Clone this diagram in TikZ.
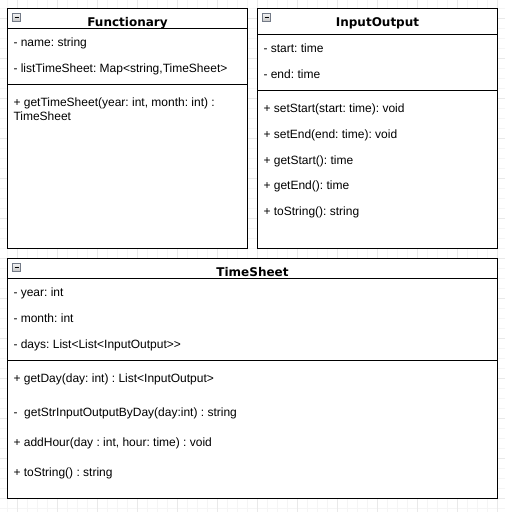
\documentclass[tikz,border=0pt]{standalone}
\usepackage{fontspec}
\setmainfont{Liberation Sans}
\newfontfamily\titlefont{DejaVu Sans}
\frenchspacing
\definecolor{gridminor}{rgb}{0.96,0.96,0.96}
\definecolor{gridmajor}{rgb}{0.915,0.915,0.915}
\definecolor{iconedge}{rgb}{0.45,0.48,0.53}

\begin{document}
\begin{tikzpicture}[x=1pt,y=-1pt]
        \tikzstyle{every node}=[font=\fontsize{12}{14}\selectfont, inner sep=0pt]
        \tikzstyle{member}=[anchor=base west]
        \tikzstyle{classname}=[anchor=base, font=\fontsize{12}{14}\selectfont\titlefont\bfseries]
        \tikzstyle{classbox}=[draw=black, line width=1pt, fill=white]
        \useasboundingbox (0,0) rectangle (505,512);
        \fill[white] (0,0) rectangle (505,512);
        \begin{scope}[line width=1pt]
       \foreach\x in {7,17,...,507}{
            \draw[gridminor] (\x,0) -- (\x,512);
        }
       \foreach\y in {8,18,...,508}{
            \draw[gridminor] (0,\y) -- (505,\y);
        }
       \foreach\x in {17,57,...,497}{
            \draw[gridmajor] (\x,0) -- (\x,512);
        }
       \foreach\y in {18,58,...,498}{
            \draw[gridmajor] (0,\y) -- (505,\y);
        }
        \end{scope}

        % Functionary
        \draw[classbox] (7.5,8.5) rectangle (247.5,248.5);
        \draw[line width=1pt] (7.5,28.5) -- (247.5,28.5);
        \draw[line width=1pt] (7.5,84.5) -- (247.5,84.5);
        \node[classname] (functionary) at (127.5,26) {Functionary};
        \node[member] (fName) at (13.3,46) {- name: string};
        \node[member] (fList) at (13.3,72.5) {- listTimeSheet: Map<string,TimeSheet>};
        \node[member] (fGet) at (13.3,106) {+ getTimeSheet(year: int, month: int) :};
        \node[member] (fGetType) at (13.3,120) {TimeSheet};

        % InputOutput
        \draw[classbox] (257.5,8.5) rectangle (497.5,248.5);
        \draw[line width=1pt] (257.5,34.5) -- (497.5,34.5);
        \draw[line width=1pt] (257.5,90.5) -- (497.5,90.5);
        \node[classname] (inputOutput) at (377.5,26) {InputOutput};
        \node[member] (ioStart) at (263.3,52.3) {- start: time};
        \node[member] (ioEnd) at (263.3,78) {- end: time};
        \node[member] (ioSetStart) at (263.3,112.3) {+ setStart(start: time): void};
        \node[member] (ioSetEnd) at (263.3,138) {+ setEnd(end: time): void};
        \node[member] (ioGetStart) at (263.3,164) {+ getStart(): time};
        \node[member] (ioGetEnd) at (263.3,189.7) {+ getEnd(): time};
        \node[member] (ioToString) at (263.3,215.7) {+ toString(): string};

        % TimeSheet
        \draw[classbox] (7.5,258.5) rectangle (497.5,498.5);
        \draw[line width=1pt] (7.5,278.5) -- (497.5,278.5);
        \draw[line width=1pt] (7.5,360.5) -- (497.5,360.5);
        \node[classname] (timeSheet) at (252.5,276) {TimeSheet};
        \node[member] (tsYear) at (13.3,296.3) {- year: int};
        \node[member] (tsMonth) at (13.3,322) {- month: int};
        \node[member] (tsDays) at (13.3,348) {- days: List<List<InputOutput>{}>};
        \node[member] (tsGetDay) at (13.3,382) {+ getDay(day: int) : List<InputOutput>};
        \node[member] (tsGetStr) at (13.3,416.3) {-\ \ getStrInputOutputByDay(day:int) : string};
        \node[member] (tsAddHour) at (13.3,446.3) {+ addHour(day : int, hour: time) : void};
        \node[member] (tsToString) at (13.3,476.3) {+ toString() : string};

        % collapse icons
        \foreach\ix/\iy in {12.5/13.5, 262.5/13.5, 12.5/263.5}{
            \shade[top color=gray!10, bottom color=gray!45, draw=iconedge, line width=0.8pt] (\ix,\iy) rectangle ++(8,8);
            \draw[black, line width=1.3pt] (\ix+2,\iy+4) -- ++(4,0);
        }
  \end{tikzpicture}
\end{document}
